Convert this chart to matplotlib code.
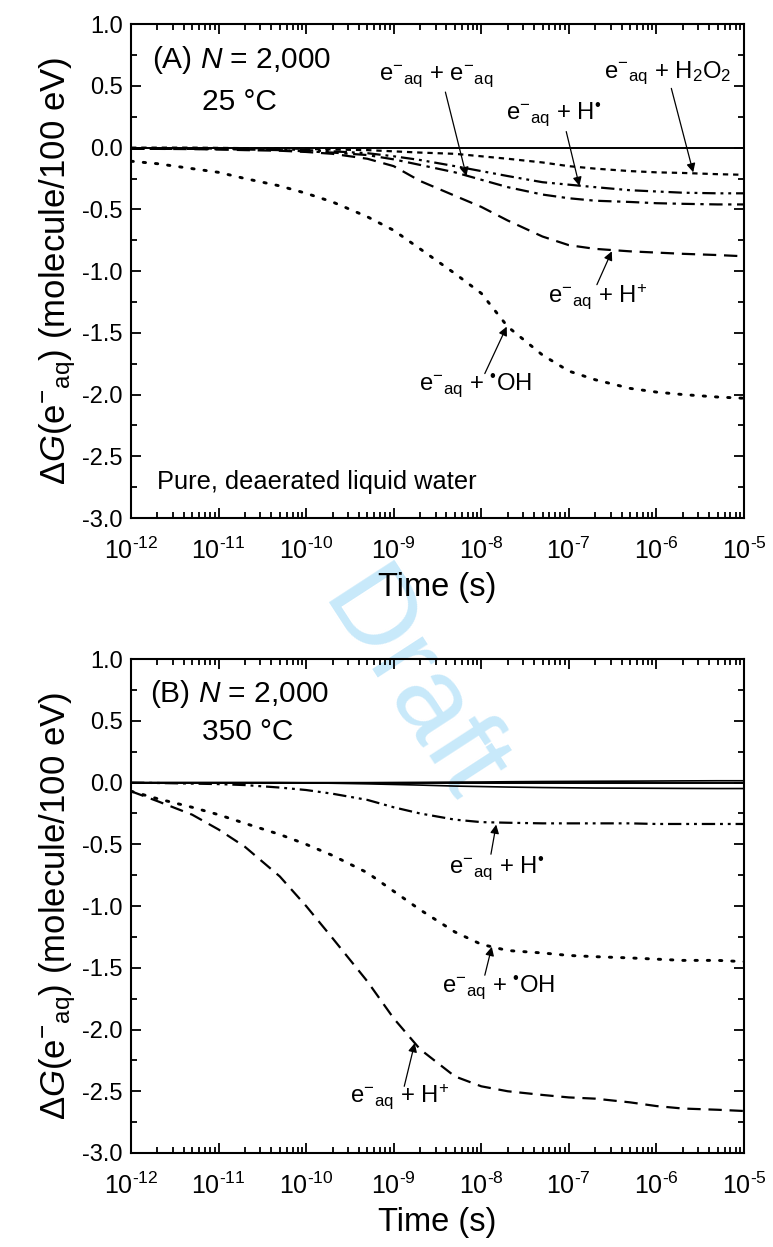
import numpy as np
import matplotlib
matplotlib.use("Agg")
import matplotlib.pyplot as plt
from matplotlib.ticker import LogLocator, FuncFormatter, MultipleLocator, NullFormatter

plt.rcParams['font.family'] = ['Liberation Sans', 'DejaVu Sans']
plt.rcParams['mathtext.fontset'] = 'custom'
plt.rcParams['mathtext.rm'] = 'Liberation Sans'
plt.rcParams['mathtext.it'] = 'Liberation Sans:italic'
plt.rcParams['mathtext.bf'] = 'Liberation Sans:bold'
plt.rcParams['axes.unicode_minus'] = False

# time grid (s), 1-2-5 per decade
time_s = [1e-12, 2e-12, 5e-12, 1e-11, 2e-11, 5e-11, 1e-10, 2e-10, 5e-10,
          1e-9, 2e-9, 5e-9, 1e-8, 2e-8, 5e-8, 1e-7, 2e-7, 5e-7,
          1e-6, 2e-6, 5e-6, 1e-5]

# (A) 25 C, change in G(e-aq) from each reaction
oh_25 = [-0.11, -0.13, -0.17, -0.20, -0.25, -0.31, -0.37, -0.44, -0.56, -0.67, -0.82,
         -1.02, -1.18, -1.45, -1.68, -1.81, -1.88, -1.95, -1.98, -2.00, -2.02, -2.03]
hplus_25 = [-0.01, -0.01, -0.012, -0.015, -0.02, -0.025, -0.035, -0.05, -0.09, -0.15, -0.27,
            -0.39, -0.48, -0.59, -0.72, -0.79, -0.82, -0.84, -0.85, -0.86, -0.87, -0.88]
ee_25 = [-0.01, -0.01, -0.01, -0.012, -0.015, -0.02, -0.03, -0.04, -0.06, -0.095, -0.14,
         -0.20, -0.26, -0.32, -0.38, -0.41, -0.43, -0.44, -0.45, -0.455, -0.46, -0.46]
hdot_25 = [-0.005, -0.005, -0.005, -0.008, -0.01, -0.012, -0.02, -0.03, -0.045, -0.07, -0.10,
           -0.15, -0.19, -0.23, -0.28, -0.30, -0.32, -0.345, -0.355, -0.365, -0.37, -0.37]
h2o2_25 = [0.0, 0.0, 0.0, -0.002, -0.004, -0.006, -0.01, -0.015, -0.02, -0.03, -0.04,
           -0.05, -0.07, -0.09, -0.12, -0.15, -0.17, -0.19, -0.20, -0.205, -0.215, -0.22]
flat_t = [1e-12, 1e-5]
flat_25 = [0.0, 0.0]

# (B) 350 C
oh_350 = [-0.07, -0.13, -0.20, -0.26, -0.33, -0.42, -0.50, -0.59, -0.73, -0.88, -1.03,
          -1.21, -1.31, -1.36, -1.38, -1.40, -1.41, -1.42, -1.43, -1.44, -1.44, -1.45]
hplus_350 = [-0.07, -0.15, -0.26, -0.38, -0.52, -0.76, -1.00, -1.26, -1.61, -1.91, -2.16,
             -2.38, -2.46, -2.50, -2.53, -2.55, -2.56, -2.59, -2.62, -2.64, -2.65, -2.66]
hdot_350 = [0.0, -0.003, -0.008, -0.012, -0.02, -0.04, -0.06, -0.09, -0.14, -0.20, -0.25,
            -0.30, -0.32, -0.325, -0.33, -0.33, -0.33, -0.33, -0.335, -0.335, -0.335, -0.335]
minor_down_350 = [0.0, 0.0, 0.0, 0.0, 0.0, 0.0, -0.002, -0.005, -0.01, -0.015, -0.02,
                  -0.028, -0.032, -0.036, -0.04, -0.042, -0.044, -0.045, -0.046, -0.047, -0.048, -0.048]
minor_up_350 = [0.0, 0.0, 0.0, 0.0, 0.0, 0.0, 0.0, 0.0, 0.0, 0.001, 0.002,
                0.004, 0.005, 0.007, 0.009, 0.010, 0.011, 0.012, 0.013, 0.014, 0.015, 0.015]
flat_350 = [0.0, 0.0]

EAQ = r"e$^{-}$$_{\mathregular{aq}}$"
RAD = r"$^{\mathregular{•}}$"

styles = {
    'oh': dict(dashes=(0.8, 3.4), dash_capstyle='round'),
    'hplus': dict(dashes=(6, 3.5)),
    'ee': dict(dashes=(6, 2.5, 1.5, 2.5)),
    'hdot': dict(dashes=(6, 2.2, 1.3, 2.2, 1.3, 2.2)),
    'h2o2': dict(dashes=(2.4, 2.2)),
}


def decade_label(v, pos):
    # plain hyphen in the exponent, as in the printed axis
    return r'$\mathregular{10^{‐%d}}$' % abs(int(round(np.log10(v))))


def style_axes(ax):
    ax.set_xscale('log')
    ax.set_xlim(1e-12, 1e-5)
    ax.set_ylim(-3.0, 1.0)
    ax.xaxis.set_major_locator(LogLocator(base=10, numticks=20))
    ax.xaxis.set_minor_locator(LogLocator(base=10, subs=np.arange(2, 10), numticks=20))
    ax.xaxis.set_minor_formatter(NullFormatter())
    ax.xaxis.set_major_formatter(FuncFormatter(decade_label))
    ax.yaxis.set_major_locator(MultipleLocator(0.5))
    ax.yaxis.set_minor_locator(MultipleLocator(0.25))
    ax.yaxis.set_major_formatter(FuncFormatter(lambda v, p: '%.1f' % v))
    ax.tick_params(which='both', direction='in', top=True, right=True, width=1.3)
    ax.tick_params(which='major', length=7, labelsize=17)
    ax.tick_params(axis='x', which='major', pad=14, labelsize=18)
    ax.tick_params(axis='y', which='major', pad=6)
    ax.tick_params(which='minor', length=4)
    for s in ax.spines.values():
        s.set_linewidth(1.5)
    ax.set_facecolor('none')
    ax.set_xlabel('Time (s)', fontsize=23.5, labelpad=6)
    ax.set_ylabel(r"Δ$\it{G}$(" + EAQ + ") (molecule/100 eV)", fontsize=25, labelpad=3)


def arrow(ax, tail, tip):
    ax.annotate('', xy=tip, xytext=tail,
                arrowprops=dict(arrowstyle='-|>', color='black', lw=0.9,
                                mutation_scale=13, shrinkA=0, shrinkB=0))


fig = plt.figure(figsize=(7.73, 12.47), dpi=100)
ax1 = fig.add_axes([0.1695, 0.5846, 0.793, 0.396])
ax2 = fig.add_axes([0.1695, 0.0754, 0.793, 0.396])

lw = 1.6
# panel A
ax1.plot(flat_t, flat_25, color='black', lw=1.4)
ax1.plot(time_s, h2o2_25, color='black', lw=lw, **styles['h2o2'])
ax1.plot(time_s, hdot_25, color='black', lw=lw, **styles['hdot'])
ax1.plot(time_s, ee_25, color='black', lw=lw, **styles['ee'])
ax1.plot(time_s, hplus_25, color='black', lw=lw, **styles['hplus'])
ax1.plot(time_s, oh_25, color='black', lw=lw + 0.5, **styles['oh'])
style_axes(ax1)

ax1.text(10**-11.76, 0.71, r"(A) $\it{N}$ = 2,000", fontsize=21.5, va='center', ha='left')
ax1.text(10**-11.19, 0.37, "25 °C", fontsize=21.5, va='center', ha='left')
ax1.text(10**-11.70, -2.71, "Pure, deaerated liquid water", fontsize=18.3, va='center', ha='left')

fs = 17.2
ax1.text(10**-8.52, 0.58, EAQ + " + " + EAQ, fontsize=fs, ha='center', va='center')
arrow(ax1, (10**-8.41, 0.45), (10**-8.17, -0.23))
ax1.text(10**-7.18, 0.27, EAQ + " + H" + RAD, fontsize=fs, ha='center', va='center')
arrow(ax1, (10**-7.03, 0.13), (10**-6.88, -0.31))
ax1.text(10**-5.87, 0.60, EAQ + r" + H$_2$O$_2$", fontsize=fs, ha='center', va='center')
arrow(ax1, (10**-5.83, 0.48), (10**-5.58, -0.20))
ax1.text(10**-6.67, -1.21, EAQ + r" + H$^{+}$", fontsize=fs, ha='center', va='center')
arrow(ax1, (10**-6.68, -1.11), (10**-6.51, -0.84))
ax1.text(10**-8.06, -1.92, EAQ + " + " + RAD + "OH", fontsize=fs, ha='center', va='center')
arrow(ax1, (10**-7.96, -1.83), (10**-7.71, -1.45))

# panel B
ax2.plot(flat_t, flat_350, color='black', lw=1.4)
ax2.plot(time_s, minor_up_350, color='black', lw=1.2)
ax2.plot(time_s, minor_down_350, color='black', lw=1.2)
ax2.plot(time_s, hdot_350, color='black', lw=lw, **styles['hdot'])
ax2.plot(time_s, hplus_350, color='black', lw=lw, **styles['hplus'])
ax2.plot(time_s, oh_350, color='black', lw=lw + 0.5, **styles['oh'])
style_axes(ax2)

ax2.text(10**-11.78, 0.72, r"(B) $\it{N}$ = 2,000", fontsize=21.5, va='center', ha='left')
ax2.text(10**-11.19, 0.41, "350 °C", fontsize=21.5, va='center', ha='left')

ax2.text(10**-7.83, -0.69, EAQ + " + H" + RAD, fontsize=fs, ha='center', va='center')
arrow(ax2, (10**-7.89, -0.58), (10**-7.83, -0.34))
ax2.text(10**-7.80, -1.66, EAQ + " + " + RAD + "OH", fontsize=fs, ha='center', va='center')
arrow(ax2, (10**-7.96, -1.56), (10**-7.88, -1.33))
ax2.text(10**-8.93, -2.55, EAQ + r" + H$^{+}$", fontsize=fs, ha='center', va='center')
arrow(ax2, (10**-8.88, -2.46), (10**-8.76, -2.11))

# watermark
fig.text(0.53, 0.447, "Draft", fontsize=82, color='#c8e9fa', rotation=-57,
         ha='center', va='center', zorder=-1)

fig.savefig("out.png", dpi=100)
